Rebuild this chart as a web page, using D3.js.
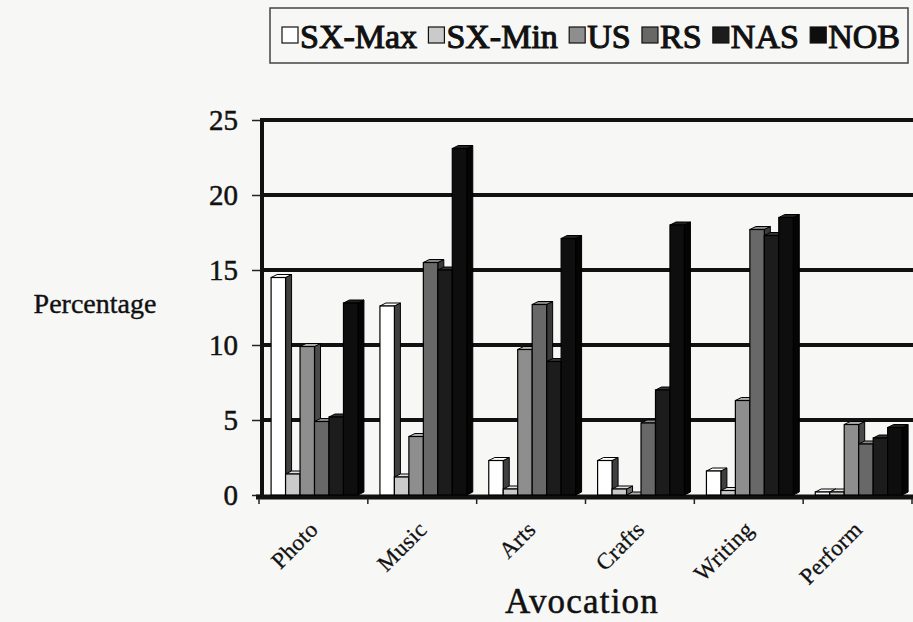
<!DOCTYPE html>
<html><head><meta charset="utf-8">
<script src="https://cdn.jsdelivr.net/npm/d3@7"></script>
<style>body{margin:0;background:#f7f7f6;} svg{display:block;} text{font-family:"Liberation Serif","Times New Roman",serif;fill:#111;}</style>
</head><body><svg id="c" width="913" height="622"></svg>
<script>
const categories = ["Photo","Music","Arts","Crafts","Writing","Perform"];
const series = ["SX-Max","SX-Min","US","RS","NAS","NOB"];
const sxMax = [14.5,12.6,2.3,2.3,1.6,0.2];
const sxMin = [1.4,1.2,0.4,0.4,0.3,0.2];
const us    = [9.9,3.9,9.7,0,6.3,4.7];
const rs    = [4.9,15.5,12.7,4.8,17.7,3.4];
const nas   = [5.2,15.0,8.9,7.0,17.3,3.8];
const nob   = [12.8,23.1,17.1,18.0,18.5,4.5];
const yTicks = [0,5,10,15,20,25];
const values = [sxMax,sxMin,us,rs,nas,nob];
const fills = ["#ffffff","#cacaca","#8e8e8e","#686868","#1c1c1c","#0e0e0e"];
const sides = ["#404040","#6a6a6a","#4a4a4a","#3a3a3a","#0a0a0a","#050505"];
const tops  = ["#ffffff","#e2e2e2","#b0b0b0","#8a8a8a","#333333","#222222"];

const svg = d3.select("#c");
const W = 913, H = 622;
svg.append("rect").attr("width",W).attr("height",H).attr("fill","#f7f7f6");

const y = d3.scaleLinear().domain([0,25]).range([495,120]);
const x = d3.scaleBand().domain(categories).range([259,912]).paddingInner(0).paddingOuter(0);
const xs = d3.scaleBand().domain(series).range([0,x.bandwidth()]).paddingInner(0).paddingOuter(0.76).align(0.55);
const dx = 6, dy = 3;

// gridlines (back wall)
svg.append("g").selectAll("line").data(yTicks.filter(d=>d>0)).join("line")
  .attr("x1",262).attr("x2",W).attr("y1",d=>y(d)).attr("y2",d=>y(d))
  .attr("stroke","#111").attr("stroke-width",4);
// value axis line
svg.append("line").attr("x1",262).attr("x2",262).attr("y1",y(25)-2).attr("y2",y(0)+2)
  .attr("stroke","#111").attr("stroke-width",4);
// y ticks and labels
const yAxis = d3.axisLeft(y).tickValues(yTicks).tickSize(8).tickPadding(14);
const ya = svg.append("g").attr("transform","translate(260,0)").call(yAxis);
ya.select(".domain").remove();
ya.selectAll(".tick line").attr("stroke","#222").attr("stroke-width",1.5);
ya.selectAll(".tick text").attr("font-size",29).attr("font-family","Liberation Serif")
  .attr("fill","#111").attr("stroke","#111").attr("stroke-width",0.5);

// floor
svg.append("line").attr("x1",256).attr("x2",W).attr("y1",y(0)+2).attr("y2",y(0)+2)
  .attr("stroke","#111").attr("stroke-width",5);

// bars
const bars = svg.append("g");
categories.forEach((c,ci)=>{
  series.forEach((s,si)=>{
    const v = values[si][ci];
    const x0 = x(c)+xs(s), x1 = x0+xs.bandwidth();
    const yt = y(v), y0 = y(0);
    const g = bars.append("g");
    g.append("polygon").attr("points",[[x1,yt],[x1+dx,yt-dy],[x1+dx,y0-dy],[x1,y0]].join(" "))
      .attr("fill",sides[si]).attr("stroke","#000").attr("stroke-width",1);
    g.append("polygon").attr("points",[[x0,yt],[x0+dx,yt-dy],[x1+dx,yt-dy],[x1,yt]].join(" "))
      .attr("fill",tops[si]).attr("stroke","#000").attr("stroke-width",1);
    g.append("rect").attr("x",x0).attr("y",yt).attr("width",x1-x0).attr("height",y0-yt)
      .attr("fill",fills[si]).attr("stroke","#000").attr("stroke-width",1.2);
  });
});

// x ticks at category boundaries
svg.append("g").selectAll("line").data(categories.map(c=>x(c)).concat([x.range()[1]])).join("line")
  .attr("x1",d=>d).attr("x2",d=>d)
  .attr("y1",y(0)+3).attr("y2",y(0)+9).attr("stroke","#222").attr("stroke-width",1.5);

// x labels
svg.append("g").selectAll("text").data(categories).join("text")
  .attr("transform",d=>`translate(${x(d)+x.bandwidth()/2+6},${531}) rotate(-45)`)
  .attr("text-anchor","end").attr("font-size",23).attr("letter-spacing",0.3)
  .attr("stroke","#111").attr("stroke-width",0.3).text(d=>d);

// axis titles
svg.append("text").attr("x",95).attr("y",313).attr("text-anchor","middle").attr("font-size",28)
  .attr("stroke","#111").attr("stroke-width",0.4).text("Percentage");
svg.append("text").attr("x",582).attr("y",613).attr("text-anchor","middle").attr("font-size",35)
  .attr("letter-spacing",1.2).attr("stroke","#111").attr("stroke-width",0.5).text("Avocation");

// legend
const lg = svg.append("g");
lg.append("rect").attr("x",270).attr("y",8).attr("width",638).attr("height",55)
  .attr("fill","none").attr("stroke","#444").attr("stroke-width",1.5);
const items = lg.selectAll("g.it").data(series).join("g").attr("class","it");
items.append("text").attr("font-size",34).attr("font-family","Liberation Serif").attr("font-weight","normal")
  .attr("stroke","#111").attr("stroke-width",1.1).attr("y",48).text(d=>d);
const widths = [];
items.each(function(){ widths.push(d3.select(this).select("text").node().getComputedTextLength()); });
const sq = 16, sqGap = 2;
const total = d3.sum(widths) + series.length*(sq+sqGap);
const gap = (900-282-total)/(series.length-1);
let cx = 282;
items.each(function(d,i){
  const g = d3.select(this);
  g.insert("rect","text").attr("x",cx).attr("y",27).attr("width",sq).attr("height",sq)
    .attr("fill",fills[i]).attr("stroke","#111").attr("stroke-width",1.2);
  g.select("text").attr("x",cx+sq+sqGap);
  cx += sq+sqGap+widths[i]+gap;
});
</script></body></html>
